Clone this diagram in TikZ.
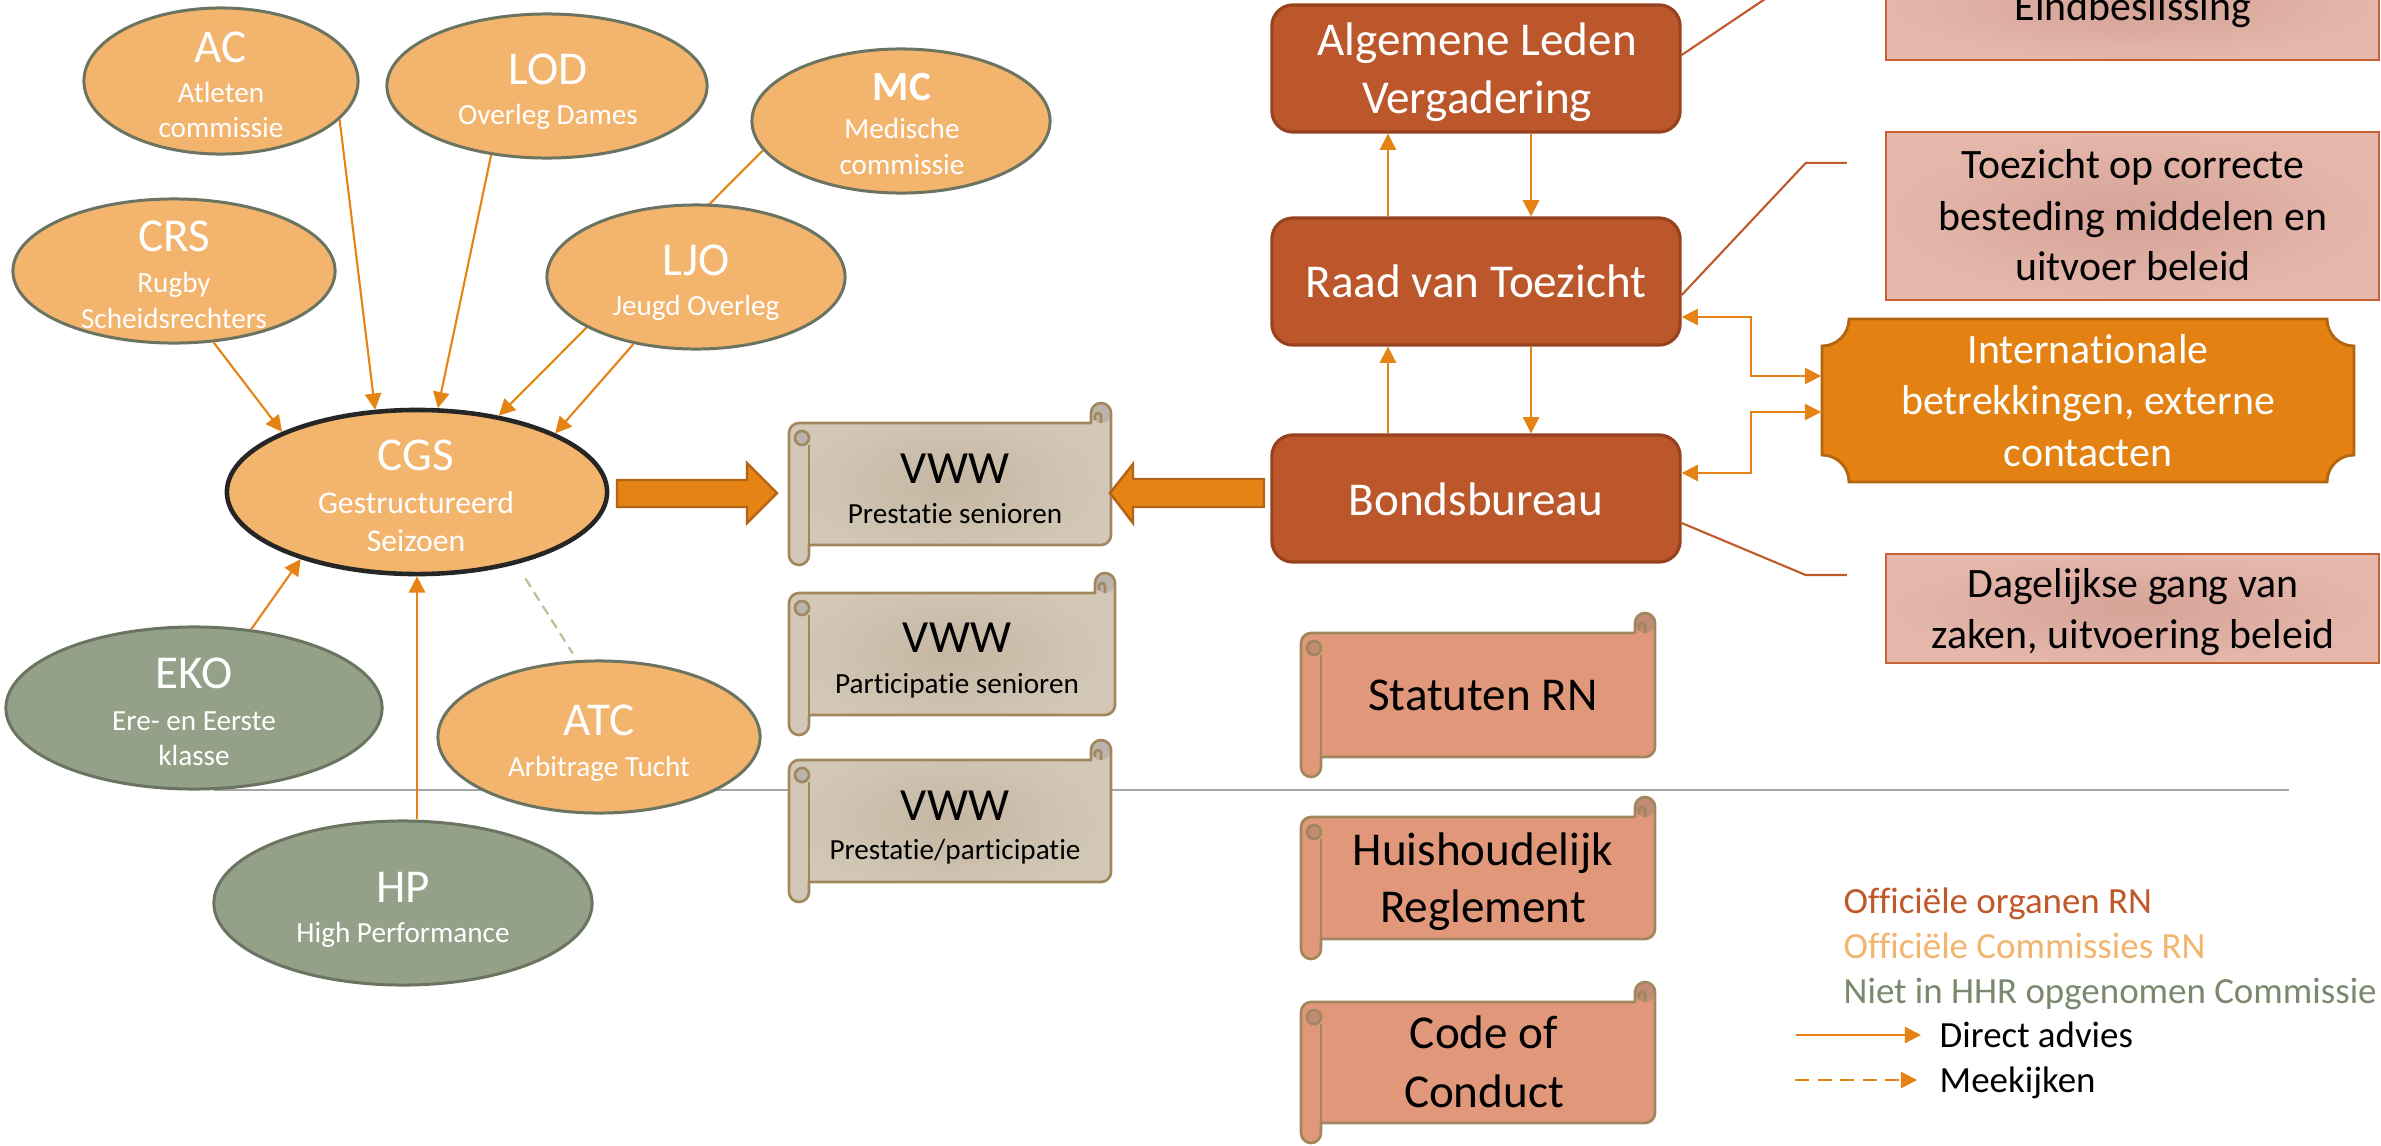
\documentclass[tikz,border=0pt]{standalone}
\usepackage{fontspec}
\setmainfont{Carlito}[Ligatures=NoCommon]
\usetikzlibrary{shapes.geometric,arrows.meta}

\definecolor{ellO}{RGB}{243,180,110}
\definecolor{ellG}{RGB}{148,160,136}
\definecolor{ellB}{RGB}{106,116,96}
\definecolor{rust}{RGB}{188,87,44}
\definecolor{rustD}{RGB}{150,66,30}
\definecolor{arrO}{RGB}{229,131,20}
\definecolor{arrD}{RGB}{180,100,20}
\definecolor{intO}{RGB}{227,130,18}
\definecolor{intD}{RGB}{178,102,16}
\definecolor{pinkL}{RGB}{229,183,171}
\definecolor{pinkD}{RGB}{213,162,150}
\definecolor{pinkB}{RGB}{200,96,56}
\definecolor{vwwL}{RGB}{211,200,183}
\definecolor{vwwD}{RGB}{196,182,162}
\definecolor{vwwC}{RGB}{186,180,172}
\definecolor{scrB}{RGB}{160,136,92}
\definecolor{salm}{RGB}{224,151,122}
\definecolor{salmC}{RGB}{192,140,116}
\definecolor{callC}{RGB}{192,88,42}
\definecolor{sepG}{RGB}{166,166,166}
\definecolor{olv}{RGB}{196,189,151}
\definecolor{legG}{RGB}{122,137,110}

\newcommand\szBig{\fontsize{13.4}{16}\selectfont}
\newcommand\szMC{\fontsize{11.8}{14}\selectfont\bfseries}
\newcommand\szSm{\fontsize{8.3}{10}\selectfont}
\newcommand\szCGS{\fontsize{9}{11}\selectfont}
\newcommand\szVWW{\fontsize{13.1}{16}\selectfont}
\newcommand\szMid{\fontsize{11.9}{14.5}\selectfont}
\newcommand\szLeg{\fontsize{10.5}{12.8}\selectfont}

% horizontal scroll outline: l t r b options
\newcommand\scrollshape[5]{%
\path[#5] (#1,#2+30) arc[start angle=180,end angle=270,radius=10] -- (#3-20,#2+20) -- (#3-20,#2+10) arc[start angle=180,end angle=360,radius=10] -- (#3,#4-30) arc[start angle=0,end angle=90,radius=10] -- (#1+20,#4-20) -- (#1+20,#4-10) arc[start angle=0,end angle=180,radius=10] -- cycle;}
% l t r b fillopts curlcolor bordercolor
\newcommand\scrollbox[7]{%
\scrollshape{#1}{#2}{#3}{#4}{#5}
\fill[#6] (#3-10,#2+10) circle[radius=10];
\scrollshape{#1}{#2}{#3}{#4}{draw=#7,line width=0.75pt,line join=round}
\draw[#7,line width=0.75pt] (#3-10,#2+20) -- (#3-10,#2+13) arc[start angle=0,end angle=-180,radius=3] -- (#3-16,#2+17);
\filldraw[fill=#6,draw=#7,line width=0.75pt] (#1+13,#2+35) circle[radius=7];
\draw[#7,line width=0.75pt] (#1+20,#2+42) -- (#1+20,#4-10);
}

\tikzset{
  ell/.style={ellipse, inner sep=0pt, draw=ellB, line width=0.85pt},
  ello/.style={ell, fill=ellO},
  ellg/.style={ell, fill=ellG},
  orgbox/.style={rectangle, rounded corners=0.21cm, fill=rust, draw=rustD, line width=0.9pt, minimum width=4.08cm, minimum height=1.27cm, inner sep=0pt},
  pinkbox/.style={rectangle, inner sep=0pt, draw=pinkB, line width=0.7pt, inner color=pinkD, outer color=pinkL, minimum width=4.93cm},
  tw/.style={anchor=base, inner sep=0pt, text=white},
  tk/.style={anchor=base, inner sep=0pt, text=black},
  tl/.style={anchor=base west, inner sep=0pt},
  arr/.style={draw=arrO, line width=0.6pt, -{Triangle[length=4.6pt,width=4.6pt]}},
  darr/.style={draw=arrO, line width=0.6pt, {Triangle[length=4.6pt,width=4.6pt]}-{Triangle[length=4.6pt,width=4.6pt]}},
  callout/.style={draw=callC, line width=0.6pt},
  blockarr/.style={fill=arrO, draw=arrD, line width=0.7pt, line join=miter},
}

\begin{document}
\begin{tikzpicture}[x=0.01cm,y=-0.01cm]
\useasboundingbox (0,0) rectangle (2381,1145);
\clip (0,0) rectangle (2381,1145);
\fill[white] (0,0) rectangle (2381,1145);

% separator line
\draw[sepG, line width=0.7pt] (214,790) -- (2289,790);

% ---------- commissions (ellipses) ----------
\node[ello, minimum width=2.74cm, minimum height=1.46cm] (ac) at (221,81) {};
\node[ello, minimum width=3.20cm, minimum height=1.44cm] (lod) at (547,86) {};
\node[ello, minimum width=2.98cm, minimum height=1.44cm] (mc) at (901,121) {};
\node[ello, minimum width=3.22cm, minimum height=1.44cm] (crs) at (174,271) {};
\node[ello, minimum width=3.80cm, minimum height=1.64cm, draw=black!85, line width=1.3pt] (cgs) at (417,492) {};
\draw[arr] (mc.-168) -- (cgs.43.6);
\node[ello, minimum width=2.98cm, minimum height=1.44cm] (ljo) at (696,277) {};
\node[ellg, minimum width=3.76cm, minimum height=1.62cm] (eko) at (194,708) {};
\node[ello, minimum width=3.22cm, minimum height=1.52cm] (atc) at (599,737) {};
\node[ellg, minimum width=3.78cm, minimum height=1.64cm] (hp) at (403,903) {};

\node[tw,font=\szBig] (ac-t) at (221,62) {AC};
\node[tw,font=\szSm] (ac-s1) at (221,102) {Atleten};
\node[tw,font=\szSm] (ac-s2) at (221,137) {commissie};
\node[tw,font=\szBig] (lod-t) at (548,84) {LOD};
\node[tw,font=\szSm] (lod-s) at (548,124) {Overleg Dames};
\node[tw,font=\szMC] (mc-t) at (902,100) {MC};
\node[tw,font=\szSm] (mc-s1) at (902,138) {Medische};
\node[tw,font=\szSm] (mc-s2) at (902,174) {commissie};
\node[tw,font=\szBig] (crs-t) at (174,251) {CRS};
\node[tw,font=\szSm] (crs-s1) at (174,292) {Rugby};
\node[tw,font=\szSm] (crs-s2) at (174,328) {Scheidsrechters};
\node[tw,font=\szBig] (ljo-t) at (696,275) {LJO};
\node[tw,font=\szSm] (ljo-s) at (696,315) {Jeugd Overleg};
\node[tw,font=\szBig] (cgs-t) at (416,470) {CGS};
\node[tw,font=\szCGS] (cgs-s1) at (416,513) {Gestructureerd};
\node[tw,font=\szCGS] (cgs-s2) at (416,551) {Seizoen};
\node[tw,font=\szBig] (eko-t) at (194,688) {EKO};
\node[tw,font=\szSm] (eko-s1) at (194,730) {Ere- en Eerste};
\node[tw,font=\szSm] (eko-s2) at (194,765) {klasse};
\node[tw,font=\szBig] (atc-t) at (599,735) {ATC};
\node[tw,font=\szSm] (atc-s) at (599,776) {Arbitrage Tucht};
\node[tw,font=\szBig] (hp-t) at (403,902) {HP};
\node[tw,font=\szSm] (hp-s) at (403,942) {High Performance};

\draw[arr] (ac.-18.4) -- (cgs.117.1);
\draw[arr] (lod.-129.8) -- (cgs.76.1);
\draw[arr] (ljo.-133.7) -- (cgs.23.6);
\draw[arr] (crs.-61.6) -- (cgs.156.4);
\draw[arr] (eko.54) -- (cgs.-150.7);
\draw[arr] (cgs.south |- hp.north) -- (cgs.south);
\draw[olv, line width=0.65pt, dash pattern=on 2.8pt off 1.8pt, shorten <=0.17cm, shorten >=0.08cm] (cgs.-36.2) -- (atc.106.8);

% ---------- official organs ----------
\node[orgbox] (alv) at (1476,68.5) {};
\node[orgbox] (rvt) at (1476,281.5) {};
\node[orgbox] (bb) at (1476,498.5) {};
\node[tw,font=\szBig] (alv-t1) at (1477,55) {Algemene Leden};
\node[tw,font=\szBig] (alv-t2) at (1477,113) {Vergadering};
\node[tw,font=\szBig] (rvt-t) at (1476,297) {Raad van Toezicht};
\node[tw,font=\szBig] (bb-t) at (1476,515) {Bondsbureau};

\draw[arr] ([xshift=-0.88cm]rvt.north) -- ([xshift=-0.88cm]alv.south);
\draw[arr] ([xshift=0.55cm]alv.south) -- ([xshift=0.55cm]rvt.north);
\draw[arr] ([xshift=-0.88cm]bb.north) -- ([xshift=-0.88cm]rvt.south);
\draw[arr] ([xshift=0.55cm]rvt.south) -- ([xshift=0.55cm]bb.north);

% ---------- description boxes ----------
\node[pinkbox, minimum height=1.08cm] (eind) at (2132.5,6) {};
\node[pinkbox, minimum height=1.68cm] (toez) at (2132.5,216) {};
\node[pinkbox, minimum height=1.09cm] (dag) at (2132.5,608.5) {};
\node[tk,font=\szMid] (eind-t) at (2133,20) {Eindbeslissing};
\node[tk,font=\szMid] (toez-t1) at (2133,178) {Toezicht op correcte};
\node[tk,font=\szMid] (toez-t2) at (2133,230) {besteding middelen en};
\node[tk,font=\szMid] (toez-t3) at (2133,280) {uitvoer beleid};
\node[tk,font=\szMid] (dag-t1) at (2133,597) {Dagelijkse gang van};
\node[tk,font=\szMid] (dag-t2) at (2133,648) {zaken, uitvoering beleid};

\draw[callout] ([yshift=0.135cm]alv.east) -- ++(1.22cm,0.82cm) -- ++(0.41cm,0);
\draw[callout] ([yshift=-0.135cm]rvt.east) -- ++(1.24cm,1.32cm) -- ++(0.41cm,0);
\draw[callout] ([yshift=-0.245cm]bb.east) -- ++(1.24cm,-0.52cm) -- ++(0.41cm,0);

% ---------- international plaque ----------
\filldraw[fill=intO, draw=intD, line width=0.8pt] (1822,346) arc[start angle=90,end angle=0,radius=27] -- (2327,319) arc[start angle=180,end angle=90,radius=27] -- (2354,455) arc[start angle=270,end angle=180,radius=27] -- (1849,482) arc[start angle=360,end angle=270,radius=27] -- cycle;
\node[inner sep=0pt, minimum width=5.32cm, minimum height=1.63cm] (int) at (2088,400.5) {};
\node[tw,font=\szMid] (int-t1) at (2088,363) {Internationale};
\node[tw,font=\szMid] (int-t2) at (2088,414) {betrekkingen, externe};
\node[tw,font=\szMid] (int-t3) at (2088,466) {contacten};

\draw[darr] ([yshift=-0.355cm]rvt.east) -- ++(0.69cm,0) |- ([yshift=0.245cm]int.west);
\draw[darr] ([yshift=0.255cm]bb.east) -- ++(0.69cm,0) |- ([yshift=-0.115cm]int.west);

% ---------- scrolls ----------
\scrollbox{789}{403}{1111}{565}{inner color=vwwD,outer color=vwwL}{vwwC}{scrB}
\scrollbox{789}{573}{1115}{735}{inner color=vwwD,outer color=vwwL}{vwwC}{scrB}
\scrollbox{789}{740}{1111}{902}{inner color=vwwD,outer color=vwwL}{vwwC}{scrB}
\scrollbox{1301}{613}{1655}{777}{fill=salm}{salmC}{scrB}
\scrollbox{1301}{797}{1655}{959}{fill=salm}{salmC}{scrB}
\scrollbox{1301}{982}{1655}{1143}{fill=salm}{salmC}{scrB}

\node[tk,font=\szVWW] (vww1-t) at (955,483) {VWW};
\node[tk,font=\szSm] (vww1-s) at (955,523) {Prestatie senioren};
\node[tk,font=\szVWW] (vww2-t) at (957,652) {VWW};
\node[tk,font=\szSm] (vww2-s) at (957,693) {Participatie senioren};
\node[tk,font=\szVWW] (vww3-t) at (955,820) {VWW};
\node[tk,font=\szSm] (vww3-s) at (955,859) {Prestatie/participatie};
\node[tk,font=\szBig] (stat-t) at (1483,710) {Statuten RN};
\node[tk,font=\szBig] (hr-t1) at (1483,865) {Huishoudelijk};
\node[tk,font=\szBig] (hr-t2) at (1483,922) {Reglement};
\node[tk,font=\szBig] (coc-t1) at (1484,1048) {Code of};
\node[tk,font=\szBig] (coc-t2) at (1484,1107) {Conduct};

% ---------- block arrows ----------
\draw[blockarr] (617,480) -- (747,480) -- (747,463) -- (777,493) -- (747,523) -- (747,507) -- (617,507) -- cycle;
\draw[blockarr] (1264,479) -- (1133,479) -- (1133,464) -- (1110,493) -- (1133,523) -- (1133,507) -- (1264,507) -- cycle;

% ---------- legend ----------
\node[tl, text=callC, font=\szLeg] (leg1) at (1843,913) {Officiële organen RN};
\node[tl, text=ellO, font=\szLeg] (leg2) at (1843,958) {Officiële Commissies RN};
\node[tl, text=legG, font=\szLeg] (leg3) at (1843,1003) {Niet in HHR opgenomen Commissie};
\coordinate (la1) at (1796,1035);
\coordinate (lb1) at (1921,1035);
\draw[arr] (la1) -- (lb1);
\node[tl, font=\szLeg] (leg4) at (1939,1047) {Direct advies};
\coordinate (la2) at (1795,1080);
\coordinate (lb2) at (1917,1080);
\draw[arr, line width=0.75pt, dash pattern=on 4pt off 2.4pt] (la2) -- (lb2);
\node[tl, font=\szLeg] (leg5) at (1939,1092) {Meekijken};
\end{tikzpicture}
\end{document}
